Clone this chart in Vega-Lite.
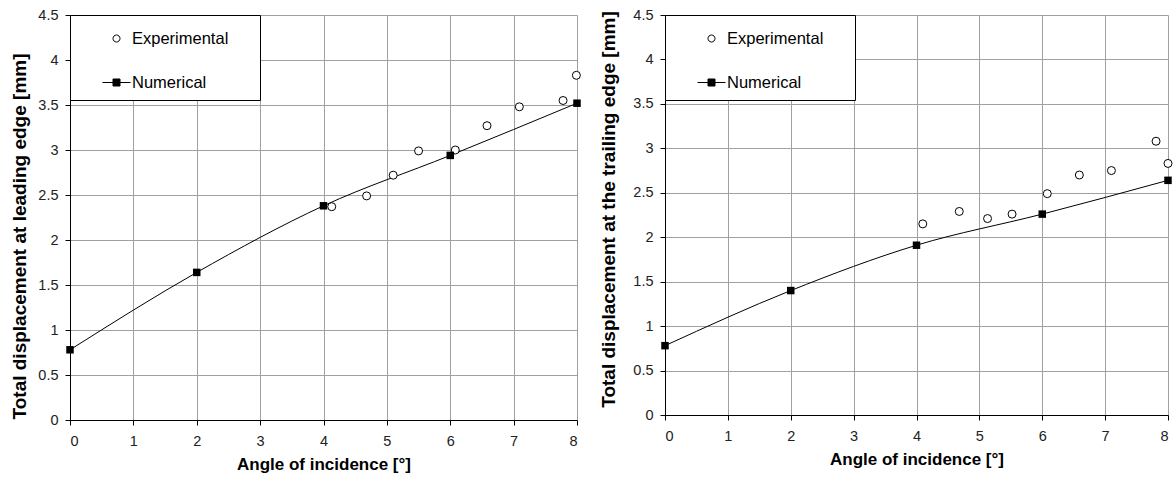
{
  "$schema": "https://vega.github.io/schema/vega-lite/v6.json",
  "background": "white",
  "padding": {"left": 10, "top": 7, "right": 5, "bottom": 5},
  "config": {
    "font": "Liberation Sans",
    "view": {"stroke": null},
    "axis": {
      "domainColor": "black", "domainWidth": 1,
      "tickColor": "black", "tickSize": 5, "tickWidth": 1,
      "gridColor": "#a0a0a0", "gridWidth": 1,
      "labelFont": "Liberation Sans", "labelFontSize": 14.5, "labelColor": "#222",
      "titleFont": "Liberation Sans", "titleFontWeight": "bold", "titleColor": "black"
    },
    "legend": {
      "orient": "none", "legendX": 0, "legendY": 0,
      "padding": 9, "symbolOffset": 23, "labelOffset": 1, "rowPadding": 21,
      "symbolSize": 784, "labelFont": "Liberation Sans", "labelFontSize": 16.5, "labelColor": "black",
      "symbolStrokeColor": "black", "symbolStrokeWidth": 1, "symbolOpacity": 1,
      "titleOrient": "right", "titlePadding": 23, "titleFontSize": 10,
      "strokeColor": "black", "fillColor": "white", "cornerRadius": 0
    }
  },
  "datasets": {
    "leading": [
      {"angle": 0, "disp": 0.78, "series": "Numerical"},
      {"angle": 2, "disp": 1.64, "series": "Numerical"},
      {"angle": 4, "disp": 2.38, "series": "Numerical"},
      {"angle": 6, "disp": 2.94, "series": "Numerical"},
      {"angle": 8, "disp": 3.52, "series": "Numerical"},
      {"angle": 4.13, "disp": 2.37, "series": "Experimental"},
      {"angle": 4.68, "disp": 2.49, "series": "Experimental"},
      {"angle": 5.1, "disp": 2.72, "series": "Experimental"},
      {"angle": 5.5, "disp": 2.99, "series": "Experimental"},
      {"angle": 6.08, "disp": 3.0, "series": "Experimental"},
      {"angle": 6.58, "disp": 3.27, "series": "Experimental"},
      {"angle": 7.09, "disp": 3.48, "series": "Experimental"},
      {"angle": 7.78, "disp": 3.55, "series": "Experimental"},
      {"angle": 7.99, "disp": 3.83, "series": "Experimental"}
    ],
    "trailing": [
      {"angle": 0, "disp": 0.78, "series": "Numerical"},
      {"angle": 2, "disp": 1.4, "series": "Numerical"},
      {"angle": 4, "disp": 1.91, "series": "Numerical"},
      {"angle": 6, "disp": 2.26, "series": "Numerical"},
      {"angle": 8, "disp": 2.64, "series": "Numerical"},
      {"angle": 4.1, "disp": 2.15, "series": "Experimental"},
      {"angle": 4.68, "disp": 2.29, "series": "Experimental"},
      {"angle": 5.13, "disp": 2.21, "series": "Experimental"},
      {"angle": 5.52, "disp": 2.26, "series": "Experimental"},
      {"angle": 6.08, "disp": 2.49, "series": "Experimental"},
      {"angle": 6.59, "disp": 2.7, "series": "Experimental"},
      {"angle": 7.1, "disp": 2.75, "series": "Experimental"},
      {"angle": 7.81, "disp": 3.08, "series": "Experimental"},
      {"angle": 8.0, "disp": 2.83, "series": "Experimental"}
    ]
  },
  "spacing": 16,
  "resolve": {"legend": {"shape": "independent", "fill": "independent", "stroke": "independent"}, "scale": {"shape": "independent", "fill": "independent", "stroke": "independent"}},
  "hconcat": [
    {
      "width": 507, "height": 405,
      "data": {"name": "leading"},
      "encoding": {
        "x": {"field": "angle", "type": "quantitative", "scale": {"domain": [0, 8], "nice": false, "zero": false},
          "axis": {"values": [0, 1, 2, 3, 4, 5, 6, 7, 8], "title": "Angle of incidence [°]", "titleFontSize": 17, "labelPadding": 9, "titlePadding": 9, "labelExpr": "datum.value + ''"}},
        "y": {"field": "disp", "type": "quantitative", "scale": {"domain": [0, 4.5], "nice": false},
          "axis": {"values": [0, 0.5, 1, 1.5, 2, 2.5, 3, 3.5, 4, 4.5], "title": "Total displacement at leading edge [mm]", "titleFontSize": 19, "titleY": 221, "labelPadding": 7, "titlePadding": 8, "labelExpr": "datum.value + ''"}}
      },
      "layer": [
        {"transform": [{"filter": "datum.series === 'Numerical'"}],
          "mark": {"type": "line", "color": "black", "strokeWidth": 1, "interpolate": "monotone"}},
        {"transform": [{"filter": "datum.series === 'Experimental'"}],
          "mark": {"type": "point", "shape": "circle", "filled": true, "fill": "white", "stroke": "black", "strokeWidth": 1, "size": 64, "opacity": 1}},
        {"transform": [{"filter": "datum.series === 'Numerical'"}],
          "mark": {"type": "point", "shape": "square", "filled": true, "fill": "black", "size": 56, "opacity": 1}},
        {"transform": [{"filter": "false"}],
          "mark": {"type": "point", "filled": true, "strokeWidth": 1, "opacity": 1},
          "encoding": {
            "shape": {"field": "series", "type": "nominal",
              "scale": {"domain": ["Experimental", "Numerical"], "range": ["M-0.25,0A0.25,0.25 0 1,0 0.25,0A0.25,0.25 0 1,0 -0.25,0Z", "M-1,0H-0.25M0.25,0H1M-0.25,-0.25H0.25V0.25H-0.25Z"]},
              "legend": {"title": " "}},
            "fill": {"field": "series", "type": "nominal",
              "scale": {"domain": ["Experimental", "Numerical"], "range": ["white", "black"]},
              "legend": {"title": " "}},
            "stroke": {"field": "series", "type": "nominal",
              "scale": {"domain": ["Experimental", "Numerical"], "range": ["black", "black"]},
              "legend": {"title": " "}}
          }}
      ]
    },
    {
      "width": 503, "height": 400,
      "data": {"name": "trailing"},
      "encoding": {
        "x": {"field": "angle", "type": "quantitative", "scale": {"domain": [0, 8], "nice": false, "zero": false},
          "axis": {"values": [0, 1, 2, 3, 4, 5, 6, 7, 8], "title": "Angle of incidence [°]", "titleFontSize": 17, "labelPadding": 9, "titlePadding": 9, "labelExpr": "datum.value + ''"}},
        "y": {"field": "disp", "type": "quantitative", "scale": {"domain": [0, 4.5], "nice": false},
          "axis": {"values": [0, 0.5, 1, 1.5, 2, 2.5, 3, 3.5, 4, 4.5], "title": "Total displacement at the trailing edge [mm]", "titleFontSize": 19, "titleY": 194, "labelPadding": 7, "titlePadding": 14, "labelExpr": "datum.value + ''"}}
      },
      "layer": [
        {"transform": [{"filter": "datum.series === 'Numerical'"}],
          "mark": {"type": "line", "color": "black", "strokeWidth": 1, "interpolate": "monotone"}},
        {"transform": [{"filter": "datum.series === 'Experimental'"}],
          "mark": {"type": "point", "shape": "circle", "filled": true, "fill": "white", "stroke": "black", "strokeWidth": 1, "size": 64, "opacity": 1}},
        {"transform": [{"filter": "datum.series === 'Numerical'"}],
          "mark": {"type": "point", "shape": "square", "filled": true, "fill": "black", "size": 56, "opacity": 1}},
        {"transform": [{"filter": "false"}],
          "mark": {"type": "point", "filled": true, "strokeWidth": 1, "opacity": 1},
          "encoding": {
            "shape": {"field": "series", "type": "nominal",
              "scale": {"domain": ["Experimental", "Numerical"], "range": ["M-0.25,0A0.25,0.25 0 1,0 0.25,0A0.25,0.25 0 1,0 -0.25,0Z", "M-1,0H-0.25M0.25,0H1M-0.25,-0.25H0.25V0.25H-0.25Z"]},
              "legend": {"title": " "}},
            "fill": {"field": "series", "type": "nominal",
              "scale": {"domain": ["Experimental", "Numerical"], "range": ["white", "black"]},
              "legend": {"title": " "}},
            "stroke": {"field": "series", "type": "nominal",
              "scale": {"domain": ["Experimental", "Numerical"], "range": ["black", "black"]},
              "legend": {"title": " "}}
          }}
      ]
    }
  ]
}
